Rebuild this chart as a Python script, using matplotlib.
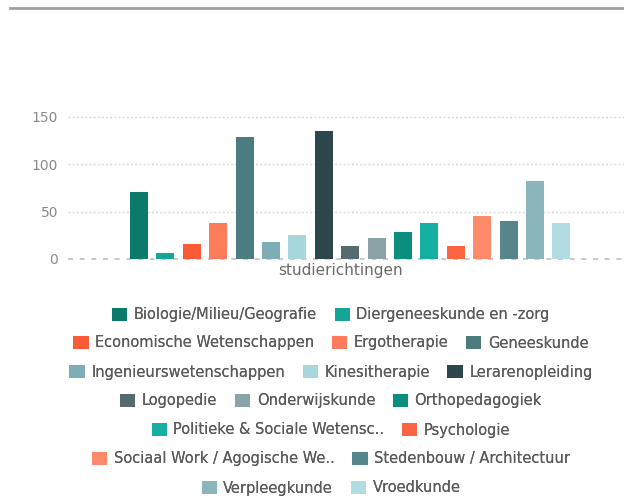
import matplotlib
matplotlib.use("Agg")
import matplotlib.pyplot as plt
from matplotlib.lines import Line2D
import numpy as np

plt.rcParams["font.family"] = ["DejaVu Sans"]

categories = [
    "Biologie/Milieu/Geografie", "Diergeneeskunde en -zorg",
    "Economische Wetenschappen", "Ergotherapie", "Geneeskunde",
    "Ingenieurswetenschappen", "Kinesitherapie", "Lerarenopleiding",
    "Logopedie", "Onderwijskunde", "Orthopedagogiek",
    "Politieke & Sociale Wetensc..", "Psychologie",
    "Sociaal Work / Agogische We..", "Stedenbouw / Architectuur",
    "Verpleegkunde", "Vroedkunde",
]
values = [71, 6, 16, 38, 129, 18, 25, 135, 14, 22, 28, 38, 14, 45, 40, 82, 38]
colors = [
    "#0b7a6b", "#14a596", "#fa5a35", "#fd7c5b", "#4a7c82",
    "#7eaeb5", "#a8d6dd", "#2e474c", "#566b6f", "#8ba3a6",
    "#0c8e7f", "#16b0a2", "#fb6541", "#fd8a6a", "#56868b",
    "#8ab5bb", "#b0dce2",
]
yticks = [0, 50, 100, 150]
xlabel = "studierichtingen"
legend_rows = [2, 3, 3, 3, 2, 2, 2]

W, H = 624, 499
fig = plt.figure(figsize=(W / 100, H / 100), dpi=100)
fig.patch.set_facecolor("white")

# top separator line
fig.add_artist(Line2D([10 / W, 1.0], [1 - 8 / H, 1 - 8 / H], color="#a0a0a0", linewidth=2))

ax = fig.add_axes([68 / W, 1 - 259 / H, 1 - 68 / W, (259 - 117) / H])
ax.set_facecolor("white")

x = np.arange(len(values))
bars = ax.bar(x, values, width=0.68, color=colors, zorder=3)
for b, lab in zip(bars.patches, categories):
    b.set_label(lab)

step = 26.4
ax.set_xlim((68 - 139) / step, (624 - 139) / step)
ax.set_ylim(0, 150)

for s in ax.spines.values():
    s.set_visible(False)
ax.set_xticks([])
ax.set_yticks(yticks)
ax.tick_params(axis="y", length=0, pad=7, labelsize=10, labelcolor="#8a8a8a")
for v in yticks[1:]:
    ax.axhline(v, color="#d8d8d8", linewidth=1, linestyle=(0, (1.5, 1.5)), zorder=1, clip_on=False)
ax.axhline(0, color="#c0c0c0", linewidth=1.2, linestyle=(0, (3, 4)), zorder=2, clip_on=False)

fig.text(341 / W, 1 - 271 / H, xlabel, ha="center", va="center",
         fontsize=11, color="#6a6a6a")

# legend, one centered row at a time
handles = list(bars.patches)
row_y = [315, 343, 372, 401, 430, 459, 488]
i = 0
for n, yy in zip(legend_rows, row_y):
    leg = fig.legend(handles[i:i + n], categories[i:i + n], loc="center",
                     bbox_to_anchor=(331 / W, 1 - yy / H), ncol=n, frameon=False,
                     fontsize=10.5, labelcolor="#5a5a5a", handlelength=1.05,
                     handleheight=1.05, handletextpad=0.45, columnspacing=1.2,
                     borderpad=0, borderaxespad=0)
    fig.add_artist(leg)
    i += n

fig.savefig("out.png", dpi=100, facecolor="white")
